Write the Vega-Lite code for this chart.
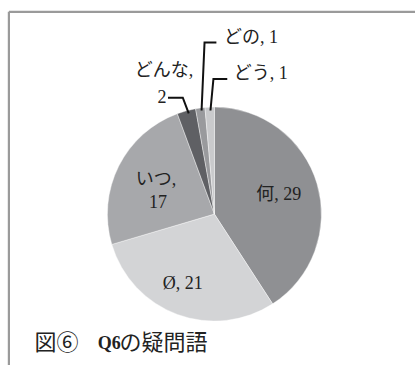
{
  "$schema": "https://vega.github.io/schema/vega-lite/v6.json",
  "width": 420,
  "height": 370,
  "padding": 0,
  "autosize": {"type": "fit", "contains": "padding"},
  "background": "white",
  "config": {"view": {"stroke": null}},
  "datasets": {
    "slices": [
      {"word": "何", "n": 29, "o": 1},
      {"word": "Ø", "n": 21, "o": 2},
      {"word": "いつ", "n": 17, "o": 3},
      {"word": "どんな", "n": 2, "o": 4},
      {"word": "どの", "n": 1, "o": 5},
      {"word": "どう", "n": 1, "o": 6}
    ],
    "labels": [
      {"t": "何, 29", "x": 282, "y": 198},
      {"t": "Ø, 21", "x": 185, "y": 288},
      {"t": "いつ,", "x": 158, "y": 182},
      {"t": "17", "x": 160, "y": 206},
      {"t": "どんな,", "x": 166, "y": 72},
      {"t": "2", "x": 164, "y": 99},
      {"t": "どの, 1", "x": 254, "y": 39},
      {"t": "どう, 1", "x": 264, "y": 75}
    ],
    "leaders": [
      {"g": "どの", "k": 1, "x": 204, "y": 112},
      {"g": "どの", "k": 2, "x": 207, "y": 43},
      {"g": "どの", "k": 3, "x": 219, "y": 43},
      {"g": "どう", "k": 1, "x": 213, "y": 112},
      {"g": "どう", "k": 2, "x": 216, "y": 80},
      {"g": "どう", "k": 3, "x": 230, "y": 80},
      {"g": "どんな", "k": 1, "x": 191, "y": 115},
      {"g": "どんな", "k": 2, "x": 185, "y": 99},
      {"g": "どんな", "k": 3, "x": 170, "y": 99}
    ],
    "frame": [
      {"g": "top", "k": 1, "x": 9, "y": 12},
      {"g": "top", "k": 2, "x": 420, "y": 12},
      {"g": "left", "k": 1, "x": 9, "y": 12},
      {"g": "left", "k": 2, "x": 9, "y": 370}
    ],
    "caption": [
      {"t": "図⑥", "x": 35, "y": 348},
      {"t": "の疑問語", "x": 121, "y": 348}
    ],
    "captionBold": [
      {"t": "Q6", "x": 99, "y": 349}
    ]
  },
  "layer": [
    {
      "data": {"name": "frame"},
      "mark": {"type": "line", "color": "#9a9a9a", "strokeWidth": 2.2},
      "encoding": {
        "x": {"field": "x", "type": "quantitative", "scale": {"domain": [0, 420], "nice": false, "zero": false}, "axis": null},
        "y": {"field": "y", "type": "quantitative", "scale": {"domain": [0, 370], "nice": false, "zero": false, "reverse": true}, "axis": null},
        "detail": {"field": "g"},
        "order": {"field": "k"}
      }
    },
    {
      "data": {"name": "slices"},
      "mark": {"type": "arc", "outerRadius": 107, "stroke": "white", "strokeWidth": 0.4},
      "encoding": {
        "x": {"datum": 217, "type": "quantitative"},
        "y": {"datum": 217, "type": "quantitative"},
        "theta": {"field": "n", "type": "quantitative", "stack": true},
        "order": {"field": "o", "type": "quantitative"},
        "color": {
          "field": "word",
          "type": "nominal",
          "scale": {
            "domain": ["何", "Ø", "いつ", "どんな", "どの", "どう"],
            "range": ["#8f9093", "#d3d4d6", "#a7a8ab", "#5f6064", "#999a9d", "#c9cacc"]
          },
          "legend": null
        }
      }
    },
    {
      "data": {"name": "leaders"},
      "mark": {"type": "line", "color": "#111111", "strokeWidth": 2},
      "encoding": {
        "x": {"field": "x", "type": "quantitative"},
        "y": {"field": "y", "type": "quantitative"},
        "detail": {"field": "g"},
        "order": {"field": "k"}
      }
    },
    {
      "data": {"name": "labels"},
      "mark": {"type": "text", "font": "Liberation Serif, Noto Sans CJK JP", "fontSize": 18, "color": "#222222", "baseline": "middle", "align": "center"},
      "encoding": {
        "x": {"field": "x", "type": "quantitative"},
        "y": {"field": "y", "type": "quantitative"},
        "text": {"field": "t"}
      }
    },
    {
      "data": {"name": "caption"},
      "mark": {"type": "text", "font": "Liberation Serif, Noto Sans CJK JP", "fontSize": 22, "color": "#222222", "baseline": "middle", "align": "left"},
      "encoding": {
        "x": {"field": "x", "type": "quantitative"},
        "y": {"field": "y", "type": "quantitative"},
        "text": {"field": "t"}
      }
    },
    {
      "data": {"name": "captionBold"},
      "mark": {"type": "text", "font": "Liberation Serif", "fontSize": 18, "fontWeight": "bold", "color": "#222222", "baseline": "middle", "align": "left"},
      "encoding": {
        "x": {"field": "x", "type": "quantitative"},
        "y": {"field": "y", "type": "quantitative"},
        "text": {"field": "t"}
      }
    }
  ]
}
